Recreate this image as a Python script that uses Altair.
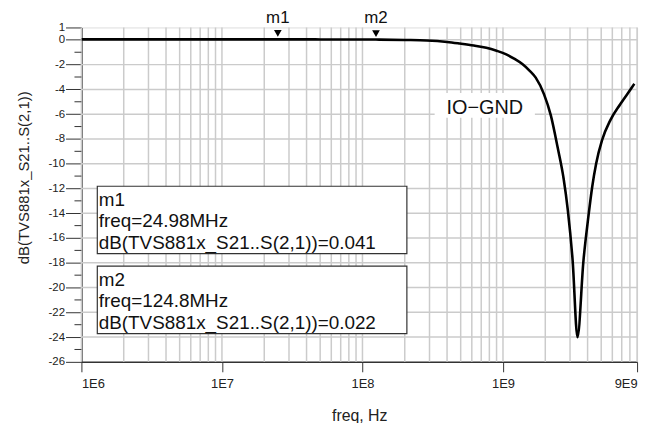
import altair as alt
import pandas as pd

# ---------------- data ----------------
freq_hz = [1e6, 1e7, 2.498e7, 5e7, 1.248e8, 2e8, 2.87e8, 4e8, 4.93e8, 6.2e8, 7.61e8, 9e8,
           1.055e9, 1.2e9, 1.38e9, 1.55e9, 1.71e9, 1.96e9, 2.19e9, 2.45e9, 2.7e9, 2.89e9,
           3.13e9, 3.39e9, 3.74e9, 4.06e9, 4.31e9, 4.6e9, 5.07e9, 5.8e9, 6.83e9, 8.26e9, 8.6e9]
s21_db = [0.04, 0.041, 0.041, 0.035, 0.022, -0.01, -0.05, -0.17, -0.3, -0.46, -0.64, -0.88,
          -1.17, -1.52, -1.97, -2.5, -3.05, -4.4, -6.1, -8.7, -11.2, -13.7,
          -17.8, -24.0, -17.8, -14.2, -11.9, -10.0, -8.1, -6.5, -5.2, -3.85, -3.55]

marker_names = ["m1", "m2"]
marker_freq = [24.98e6, 124.8e6]
marker_freq_txt = ["24.98MHz", "124.8MHz"]
marker_db = [0.041, 0.022]
expr_name = "dB(TVS881x_S21..S(2,1))"
trace_label = "IO\u2212GND"

x_tick_values = [1e6, 1e7, 1e8, 1e9, 9e9]
y_label_values = [1, 0] + list(range(-2, -27, -2))
y_minor_values = list(range(-1, -26, -2))

x_domain = [1e6, 9e9]
y_domain = [-26, 1]

# grid positions derived from the log/linear axes
x_grid = [k * 10 ** d for d in range(6, 10) for k in range(1, 10) if k * 10 ** d <= 9e9]
y_grid = list(range(-24, 1, 2))

FONT = "Liberation Sans, Arial, Helvetica, sans-serif"
W, H = 560, 337
GRID = "#cbcbcb"

curve = pd.DataFrame({"freq": freq_hz, "db": s21_db})
markers = pd.DataFrame({"name": marker_names, "freq": marker_freq, "db": marker_db})
gx = pd.DataFrame({"freq": x_grid})
gy = pd.DataFrame({"db": y_grid})
ym = pd.DataFrame({"db": y_minor_values})
one = pd.DataFrame({"a": [0]})

xs = alt.Scale(type="log", domain=x_domain, nice=False)
ys = alt.Scale(domain=y_domain, nice=False, zero=False)

x_axis = alt.Axis(
    values=x_tick_values,
    labelExpr="datum.value > 5e9 ? '9E9' : '1E' + round(log(datum.value) / LN10)",
    grid=False, tickSize=10, tickColor="#333", domainColor="#333", domainWidth=1.5,
    labelFont=FONT, labelFontSize=13, labelColor="#222", labelPadding=6,
    labelOverlap=False,
    title="freq, Hz", titleFont=FONT, titleFontSize=16, titleFontWeight="normal",
    titleColor="#222", titleY=54, titleBaseline="middle",
)
y_axis = alt.Axis(
    values=y_label_values,
    labelExpr="'' + datum.value",
    grid=False, tickSize=16, tickColor="#333", domainColor="#333", domainWidth=1.5,
    labelFont=FONT, labelFontSize=11.5, labelColor="#222", labelPadding=1,
    labelOverlap=False, labelBound=False, labelFlush=False,
    title=expr_name, titleFont=FONT, titleFontSize=15, titleFontWeight="normal",
    titleColor="#222", titleX=-58, titleY=151, titleBaseline="middle", titleAlign="center",
    titleAngle=270,
)


def X(field="freq:Q"):
    return alt.X(field, scale=xs, axis=x_axis)


def Y(field="db:Q"):
    return alt.Y(field, scale=ys, axis=y_axis)


grid_x = alt.Chart(gx).mark_rule(color=GRID, strokeWidth=1.5).encode(x=X())
grid_y = alt.Chart(gy).mark_rule(color=GRID, strokeWidth=1.5).encode(y=Y())
minor_ticks = alt.Chart(ym).mark_rule(color="#333", strokeWidth=1).encode(
    y=Y(), x=alt.value(-7), x2=alt.value(0))

# white patch behind the trace label
label_bg = alt.Chart(one).mark_rect(color="white").encode(
    x=alt.value(356), x2=alt.value(457), y=alt.value(66), y2=alt.value(91))
label_txt = alt.Chart(one).mark_text(
    text=trace_label, font=FONT, fontSize=20, color="#111", align="center",
    baseline="alphabetic").encode(x=alt.value(406.6), y=alt.value(87.6))

line = alt.Chart(curve).mark_line(color="black", strokeWidth=2.6, interpolate="monotone",
                                   clip=True).encode(x=X(), y=Y())

tri = alt.Chart(markers).mark_point(shape="triangle-down", filled=True, color="black",
                                    size=60, opacity=1, yOffset=-6).encode(x=X(), y=Y())
tri_lbl = alt.Chart(markers).mark_text(font=FONT, fontSize=17, color="#111",
                                       baseline="middle", dy=-21.5).encode(
    x=X(), y=Y(), text="name:N")

layers = [grid_x, grid_y, minor_ticks, label_bg, label_txt, line, tri, tri_lbl]

box_tops = [160, 240.5]
box_h = 68
for i, name in enumerate(marker_names):
    top = box_tops[i]
    layers.append(alt.Chart(one).mark_rect(fill="white", stroke="#333", strokeWidth=1.2).encode(
        x=alt.value(16), x2=alt.value(328), y=alt.value(top), y2=alt.value(top + box_h)))
    lines_txt = [name, f"freq={marker_freq_txt[i]}", f"{expr_name}={marker_db[i]:.3f}"]
    for j, t in enumerate(lines_txt):
        layers.append(alt.Chart(one).mark_text(
            text=t, font=FONT, fontSize=19, color="#111", align="left",
            baseline="alphabetic").encode(x=alt.value(17.5), y=alt.value(top + 20 + j * 21.5)))

chart = alt.layer(*layers).properties(
    width=W, height=H,
    autosize=alt.AutoSizeParams(type="none"),
    padding={"left": 74, "top": 18, "right": 10, "bottom": 60},
).configure_view(stroke="#7a7a7a", strokeWidth=1.2).configure_axis(
    labelOverlap=False).configure(background="white")

chart.save("out.html", embed_options={"renderer": "svg", "actions": False})
